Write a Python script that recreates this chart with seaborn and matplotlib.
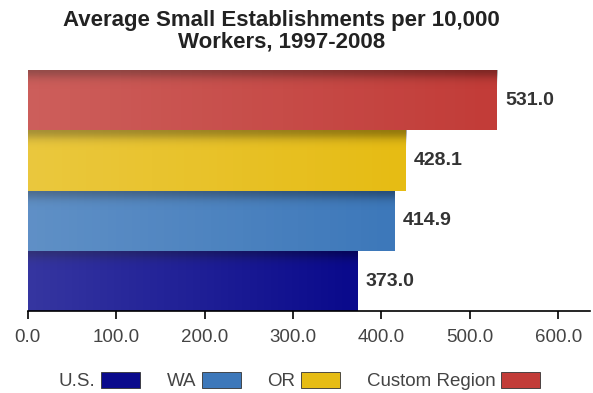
import matplotlib
matplotlib.use("Agg")
import matplotlib.pyplot as plt
import seaborn as sns
import pandas as pd
import numpy as np
from matplotlib.patches import Patch

categories = ["Custom Region", "OR", "WA", "U.S."]
values = [531.0, 428.1, 414.9, 373.0]
colors = ["#c23c38", "#e6bc14", "#3d78ba", "#0a0a8c"]
legend_order = ["U.S.", "WA", "OR", "Custom Region"]
xticks = [0, 100, 200, 300, 400, 500, 600]

sns.set_theme(style="white")
plt.rcParams['font.family'] = ['Liberation Sans', 'DejaVu Sans']

df = pd.DataFrame({"region": categories, "value": values})

fig = plt.figure(figsize=(5.93, 3.93), dpi=100)
ax = fig.add_axes([0.047, 0.208, 0.948, 0.614])
sns.barplot(data=df, x="value", y="region", hue="region", order=categories,
            palette=dict(zip(categories, colors)), width=1.0, orient="h",
            legend=False, ax=ax, edgecolor="none", saturation=1)

# gradient shading overlay
for patch in ax.patches:
    x0, y0 = patch.get_x(), patch.get_y()
    w, h = patch.get_width(), patch.get_height()
    grad = np.linspace(0, 1, 100).reshape(-1, 1)
    shade = np.zeros((100, 1, 4))
    alpha = 0.35 * np.exp(-((grad - 0.0) / 0.15) ** 2)
    shade[..., 3] = alpha
    im = ax.imshow(shade, extent=[x0, x0 + w, y0 + h, y0], aspect="auto",
                   zorder=patch.get_zorder() + 0.1, interpolation="bilinear")
    im.set_clip_path(patch)
    hgrad = np.linspace(0, 1, 100).reshape(1, -1)
    wsh = np.ones((1, 100, 4))
    wsh[..., 3] = 0.18 * (1 - hgrad)
    im2 = ax.imshow(wsh, extent=[x0, x0 + w, y0 + h, y0], aspect="auto",
                    zorder=patch.get_zorder() + 0.2, interpolation="bilinear")
    im2.set_clip_path(patch)

for i, v in enumerate(values):
    ax.text(v + 9, i, f"{v:.1f}", va="center", ha="left", fontsize=14,
            fontweight="bold", color="#333333")

ax.set_xlim(0, 636)
ax.set_ylim(3.5, -0.5)
ax.set_xticks(xticks)
ax.set_xticklabels([f"{t:.1f}" for t in xticks], fontsize=13.5, color="#444444")
ax.set_yticks([])
ax.set_xlabel("")
ax.set_ylabel("")
for s in ["top", "right", "left"]:
    ax.spines[s].set_visible(False)
ax.spines["bottom"].set_color("black")
ax.spines["bottom"].set_linewidth(1.2)
ax.tick_params(axis="x", bottom=True, direction="out", length=6, width=1.2,
               color="black", pad=7)

fig.text(0.475, 0.975, "Average Small Establishments per 10,000\nWorkers, 1997-2008",
         ha="center", va="top", fontsize=16, fontweight="bold", color="#222222",
         linespacing=1.05)

handles = [Patch(facecolor=dict(zip(categories, colors))[c], edgecolor="#333333",
                 linewidth=0.6) for c in legend_order]
fig.legend(handles, legend_order, loc="center", bbox_to_anchor=(0.505, 0.03),
           ncol=4, frameon=False, markerfirst=False, fontsize=13.5,
           handlelength=2.1, handleheight=0.9, columnspacing=1.4, handletextpad=0.3,
           labelcolor="#444444")

fig.savefig("out.png", dpi=100)
